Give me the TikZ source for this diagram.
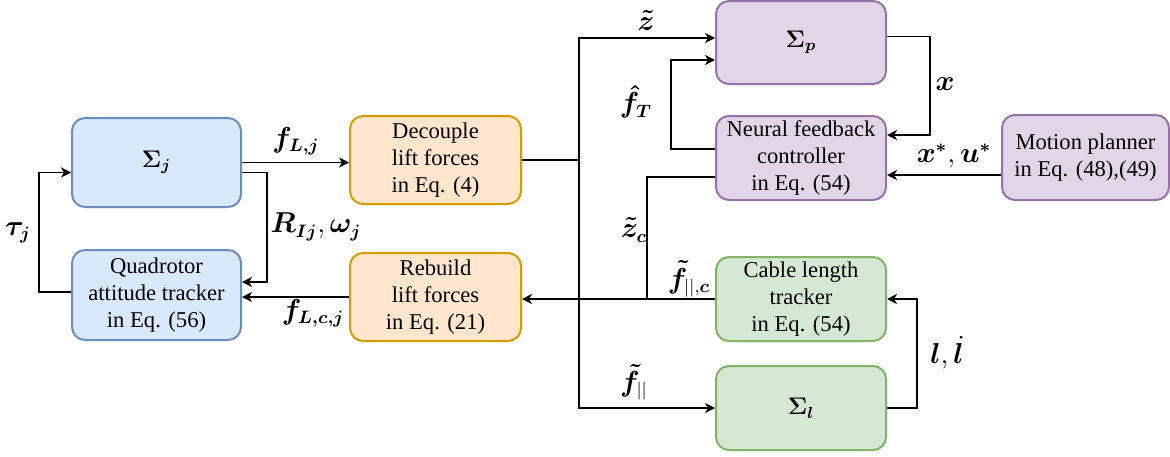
\documentclass[tikz,border=0pt]{standalone}
\usepackage{amsmath}
\usepackage[no-math]{fontspec}
\usepackage{bm}
\setmainfont{Liberation Serif}
\newfontfamily\tnr{Liberation Serif}
\usetikzlibrary{arrows.meta}
\definecolor{bfill}{HTML}{DAE8FC}\definecolor{bdraw}{HTML}{6C8EBF}
\definecolor{ofill}{HTML}{FFE6CC}\definecolor{odraw}{HTML}{D79B00}
\definecolor{pfill}{HTML}{E1D5E7}\definecolor{pdraw}{HTML}{9673A6}
\definecolor{gfill}{HTML}{D5E8D4}\definecolor{gdraw}{HTML}{82B366}
\newcommand{\symsize}{\fontsize{11.5}{12}\selectfont}
\tikzset{
  box/.style={rounded corners=6.5pt, line width=1pt, align=center, inner sep=0pt,
    font=\tnr\fontsize{11.3}{13.5}\selectfont, minimum width=85pt, minimum height=42pt},
  bluebox/.style={box, fill=bfill, draw=bdraw},
  orabox/.style={box, fill=ofill, draw=odraw},
  purbox/.style={box, fill=pfill, draw=pdraw},
  grnbox/.style={box, fill=gfill, draw=gdraw},
  arr/.style={line width=0.7pt, -{Stealth[length=5pt,width=5pt,inset=1.5pt]}},
  ln/.style={line width=0.7pt},
  lbl/.style={inner sep=0pt, font=\fontsize{13.5}{14}\selectfont}
}
\begin{document}
\begin{tikzpicture}[x=0.5pt,y=-0.5pt]
\useasboundingbox (0,0) rectangle (1170,456);
% nodes
\node[bluebox, minimum width=84.5pt, minimum height=44.5pt] (sj) at (156.5,162.5) {\symsize$\bm{\Sigma_j}$};
\node[bluebox, minimum width=84.5pt, minimum height=45pt] (qt) at (156.5,295) {Quadrotor\\attitude tracker\\in Eq. (56)};
\node[orabox, minimum width=85.5pt, minimum height=44pt] (dec) at (435.5,160) {Decouple\\lift forces\\in Eq. (4)};
\node[orabox, minimum width=85.5pt, minimum height=44pt] (reb) at (435.5,297) {Rebuild\\lift forces\\in Eq. (21)};
\node[purbox, minimum width=85pt, minimum height=41.5pt] (sp) at (801,42.5) {\symsize$\bm{\Sigma_p}$};
\node[purbox, minimum width=85pt, minimum height=42pt] (nfc) at (801,158) {Neural feedback\\controller\\in Eq. (54)};
\node[purbox, minimum width=83.5pt, minimum height=42.5pt] (mp) at (1085.5,157.5) {Motion planner\\in Eq. (48),(49)};
\node[grnbox, minimum width=85pt, minimum height=42pt] (clt) at (801,299) {Cable length\\tracker\\in Eq. (54)};
\node[grnbox, minimum width=85pt, minimum height=42pt] (sl) at (801,408) {\symsize$\bm{\Sigma_l}$};
% connectors
\draw[arr] (sj.east) -- (sj.east -| dec.west);
\draw[arr] ([yshift=-5pt]sj.east) -- ++(25,0) |- ([yshift=6.5pt]qt.east);
\draw[arr] ([yshift=1.5pt]qt.west) -- ++(-32,0) |- ([yshift=-5pt]sj.west);
\draw[arr] (reb.west) -- (reb.west -| qt.east);
\draw[ln] (dec.east) -- ++(57,0) coordinate (j1);
\draw[arr] (j1) |- ([yshift=2.25pt]sp.west);
\draw[arr] (j1) |- (sl.west);
\draw[arr] ([yshift=4.5pt]nfc.west) -- ++(-44,0) |- ([yshift=-8.75pt]sp.west);
\draw[ln] ([yshift=-9.5pt]nfc.west) -- ++(-68,0) coordinate (c1) -- (c1 |- clt.west);
\draw[arr] (clt.west) -- (clt.west -| reb.east);
\draw[arr] ([yshift=3pt]sp.east) -- ++(43,0) |- ([yshift=11.5pt]nfc.east);
\draw[arr] ([yshift=-8.75pt]mp.west) -- ([yshift=-8.75pt]mp.west -| nfc.east);
\draw[arr] (sl.east) -- ++(30,0) |- (clt.east);
% labels
\node[lbl] (l1) at (296,141) {$\bm{f_{L,j}}$};
\node[lbl] (l2) at (316,227) {$\bm{R_{Ij}},\bm{\omega_j}$};
\node[lbl] (l3) at (18,233) {$\bm{\tau_j}$};
\node[lbl] (l4) at (313,313) {$\bm{f_{L,c,j}}$};
\node[lbl] (l5) at (646,20) {$\bm{\tilde{z}}$};
\node[lbl] (l6) at (636,102) {$\bm{\hat{f}_T}$};
\node[lbl] (l7) at (634,230) {$\bm{\tilde{z}_c}$};
\node[lbl] (l8) at (689,279) {$\bm{\tilde{f}}_{||,\bm{c}}$};
\node[lbl] (l9) at (634,382) {$\bm{\tilde{f}}_{||}$};
\node[lbl] (l10) at (945,84) {$\bm{x}$};
\node[lbl] (l11) at (954,156) {$\bm{x^*},\bm{u^*}$};
\node[lbl] (l12) at (947,353) {$\bm{l},\dot{\bm{l}}$};
\end{tikzpicture}
\end{document}
